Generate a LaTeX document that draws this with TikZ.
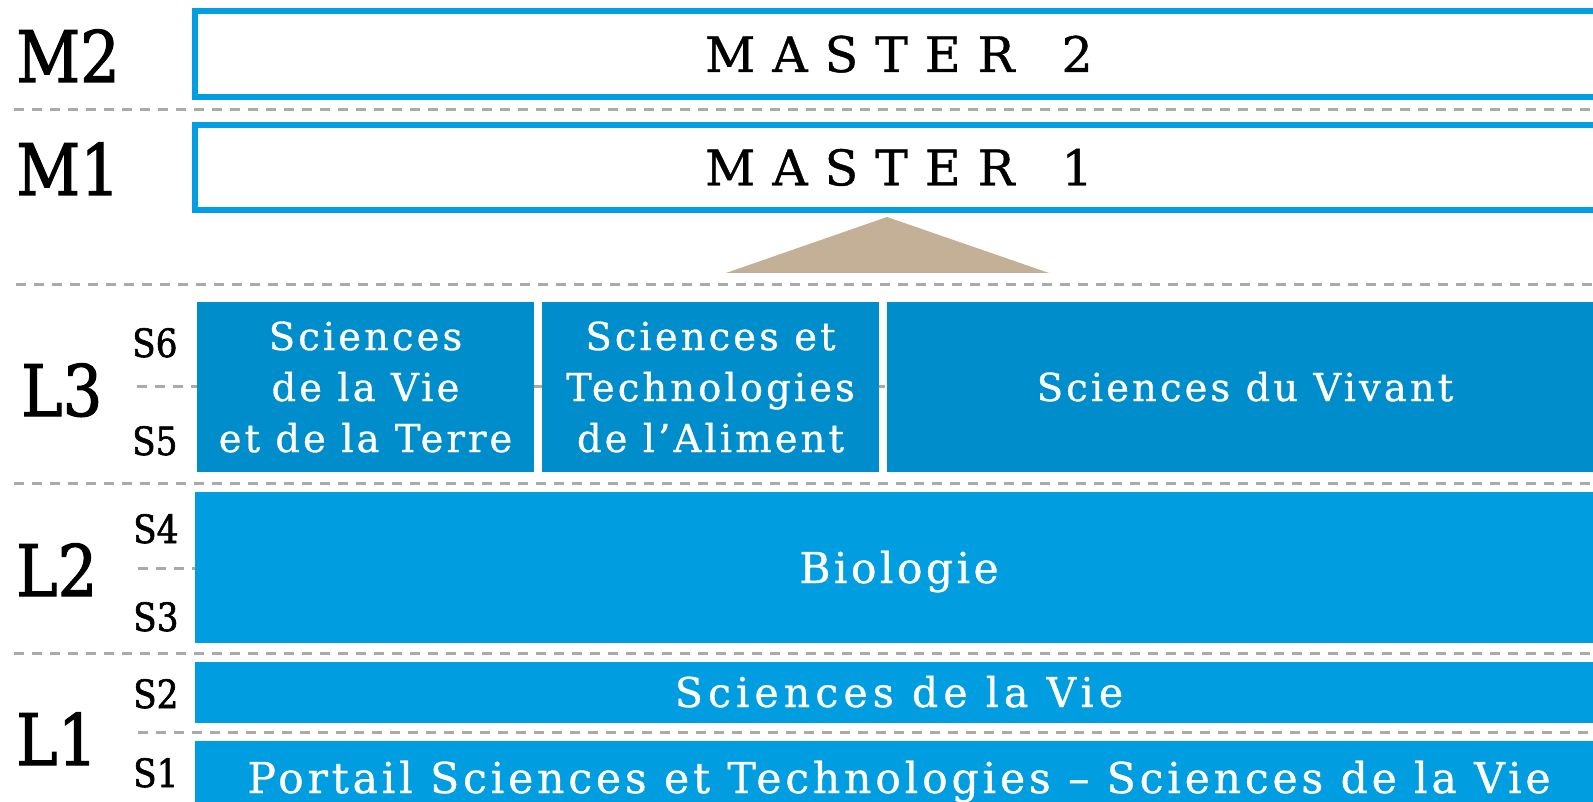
\documentclass[tikz,border=0pt]{standalone}
\usepackage{fontspec}
\setmainfont{DejaVu Serif}
\newfontfamily\boxfont[LetterSpace=8,FakeBold=0.8]{DejaVu Serif}
\newfontfamily\sdlvfont[LetterSpace=12.5,FakeBold=0.8]{DejaVu Serif}
\newfontfamily\portfont[LetterSpace=9,FakeBold=0.8]{DejaVu Serif}
\newfontfamily\masterfont[FakeBold=0.8]{DejaVu Serif}
\newfontfamily\labfont[FakeStretch=0.88,FakeBold=1.5]{DejaVu Serif}
\newcommand\mgap{\hspace{17pt}}
\definecolor{mblue}{RGB}{0,159,227}
\definecolor{dblue}{RGB}{0,141,203}
\definecolor{lblue}{RGB}{0,158,224}
\definecolor{tanc}{RGB}{196,175,151}
\definecolor{dgray}{RGB}{170,170,170}
\begin{document}
\begin{tikzpicture}[x=1pt,y=-1pt,
  dl/.style={draw=dgray, line width=3pt, dash pattern=on 10pt off 8pt},
  mbox/.style={draw=mblue, line width=6pt, fill=white, inner sep=0pt,
    minimum width=1408pt, minimum height=86pt,
    font=\masterfont\fontsize{49}{49}\selectfont, text height=36pt, text depth=0pt},
  lbox/.style={fill=dblue, inner sep=0pt, minimum height=170pt, text=white,
    align=center, font=\boxfont\fontsize{38.5}{51}\selectfont},
  wbox/.style={fill=lblue, inner sep=0pt, minimum width=1408pt, text=white,
    text depth=0pt},
  big/.style={anchor=base west, inner sep=0pt, font=\labfont\fontsize{71}{71}\selectfont},
  sem/.style={anchor=base west, inner sep=0pt, font=\labfont\fontsize{39}{39}\selectfont}]
\useasboundingbox (0,0) rectangle (1593,802);
\clip (0,0) rectangle (1593,802);
\fill[white] (0,0) rectangle (1593,802);

% dashed separators
\coordinate (d1a) at (14,110);  \coordinate (d1b) at (1593,110);
\coordinate (d2a) at (16,285);  \coordinate (d2b) at (1593,285);
\coordinate (d3a) at (137,386); \coordinate (d3b) at (1593,386);
\coordinate (d4a) at (14,483);  \coordinate (d4b) at (1593,483);
\coordinate (d5a) at (138,568); \coordinate (d5b) at (1593,568);
\coordinate (d6a) at (14,653);  \coordinate (d6b) at (1593,653);
\coordinate (d7a) at (138,732); \coordinate (d7b) at (1593,732);
\foreach \i in {1,...,7} \draw[dl] (d\i a) -- (d\i b);

% master boxes
\node[mbox] (m2) at (899,54) {M\mgap A\mgap S\mgap T\mgap E\mgap R\hspace{47pt}2};
\node[mbox, minimum height=85.5pt] (m1) at (899,167.3) {M\mgap A\mgap S\mgap T\mgap E\mgap R\hspace{47pt}1};

% triangle
\fill[tanc] (726,273) -- (887,217) -- (1049,273) -- cycle;

% L3 boxes
\node[lbox, minimum width=337pt] (svt) at (365.5,387) {Sciences\\de la Vie\\et de la Terre};
\node[lbox, minimum width=337pt] (sta) at (710.5,387) {Sciences et\\Technologies\\de l’Aliment};
\node[lbox, minimum width=716pt, text height=28pt, text depth=0pt] (sdv) at (1245,387) {Sciences du Vivant};

% L2, L1 boxes
\node[wbox, minimum height=151pt, text height=31pt, font=\boxfont\fontsize{42.5}{42.5}\selectfont] (bio) at (899,567.5) {Biologie};
\node[wbox, minimum height=61pt, text height=30pt, font=\sdlvfont\fontsize{41}{41}\selectfont] (sdlv) at (899,692) {Sciences de la Vie};
\node[wbox, minimum height=73pt, text height=31pt, font=\portfont\fontsize{42.5}{42.5}\selectfont] (port) at (899,777.5) {Portail Sciences et Technologies – Sciences de la Vie};

% level labels
\node[big] (lm2) at (16,82) {M2};
\node[big] (lm1) at (16,195) {M1};
\node[big] (ll3) at (21,416) {L3};
\node[big] (ll2) at (16,596) {L2};
\node[big] (ll1) at (16,765) {L1};

% semester labels
\node[sem] (s6) at (132,357) {S6};
\node[sem] (s5) at (132,455) {S5};
\node[sem] (s4) at (133,543) {S4};
\node[sem] (s3) at (133,631) {S3};
\node[sem] (s2) at (133,708) {S2};
\node[sem] (s1) at (133,787) {S1};
\end{tikzpicture}
\end{document}
